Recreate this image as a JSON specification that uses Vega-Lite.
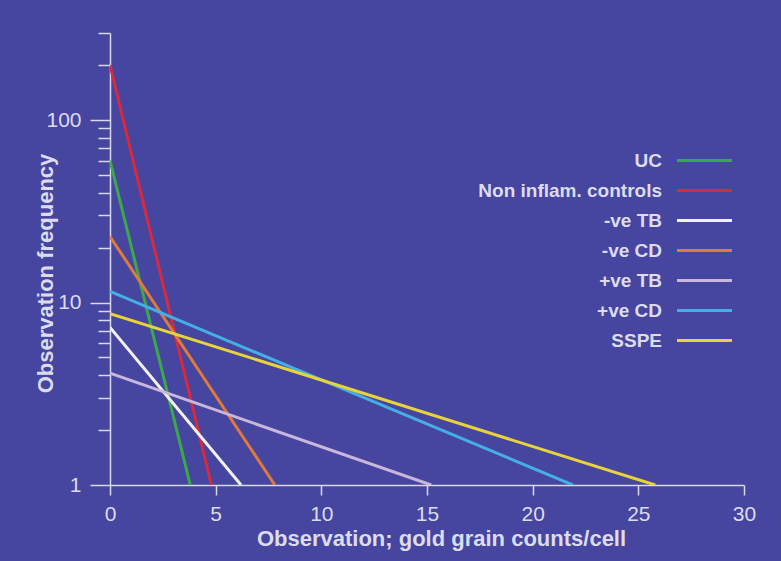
{
  "$schema": "https://vega.github.io/schema/vega-lite/v6.json",
  "autosize": "none",
  "width": 634,
  "height": 452,
  "padding": {"left": 110, "top": 33, "right": 37, "bottom": 76},
  "background": "#46459f",
  "config": {
    "view": {"stroke": null},
    "font": "Liberation Sans"
  },
  "data": {
    "values": [
      {"series": "UC", "x": 0, "y": 60},
      {"series": "UC", "x": 3.8, "y": 1},
      {"series": "Non inflam. controls", "x": 0, "y": 200},
      {"series": "Non inflam. controls", "x": 4.8, "y": 1},
      {"series": "-ve TB", "x": 0, "y": 7.3},
      {"series": "-ve TB", "x": 6.2, "y": 1},
      {"series": "-ve CD", "x": 0, "y": 23},
      {"series": "-ve CD", "x": 7.8, "y": 1},
      {"series": "+ve TB", "x": 0, "y": 4.1},
      {"series": "+ve TB", "x": 15.2, "y": 1},
      {"series": "+ve CD", "x": 0, "y": 11.5},
      {"series": "+ve CD", "x": 21.9, "y": 1},
      {"series": "SSPE", "x": 0, "y": 8.7},
      {"series": "SSPE", "x": 25.8, "y": 1}
    ]
  },
  "mark": {"type": "line", "strokeWidth": 3, "clip": true},
  "encoding": {
    "x": {
      "field": "x",
      "type": "quantitative",
      "scale": {"domain": [0, 30], "nice": false, "zero": false},
      "axis": {
        "title": "Observation; gold grain counts/cell",
        "values": [0, 5, 10, 15, 20, 25, 30],
        "grid": false,
        "domainColor": "#d8d8ee",
        "domainWidth": 1.5,
        "tickColor": "#d8d8ee",
        "tickWidth": 1.5,
        "tickSize": 10,
        "labelColor": "#dcdcf0",
        "labelFontSize": 21,
        "labelPadding": 8,
        "labelFlush": false,
        "titleColor": "#dcdcf0",
        "titleFontSize": 22,
        "titleFontWeight": "bold",
        "titlePadding": 4,
        "titleX": 331
      }
    },
    "y": {
      "field": "y",
      "type": "quantitative",
      "scale": {"type": "log", "domain": [1, 300], "nice": false},
      "axis": {
        "title": "Observation frequency",
        "values": [1, 2, 3, 4, 5, 6, 7, 8, 9, 10, 20, 30, 40, 50, 60, 70, 80, 90, 100, 200, 300],
        "labelExpr": "indexof([1, 10, 100], datum.value) >= 0 ? format(datum.value, 'd') : ''",
        "grid": false,
        "domainColor": "#d8d8ee",
        "domainWidth": 1.5,
        "tickColor": "#d8d8ee",
        "tickWidth": 1.5,
        "tickSize": {"condition": {"test": "indexof([1, 10, 100], datum.value) >= 0", "value": 20}, "value": 12},
        "labelColor": "#dcdcf0",
        "labelFontSize": 21,
        "labelPadding": 9,
        "labelFlush": false,
        "labelOverlap": false,
        "titleColor": "#dcdcf0",
        "titleFontSize": 22,
        "titleFontWeight": "bold",
        "titleX": -65,
        "titleY": 240,
        "titleBaseline": "middle"
      }
    },
    "color": {
      "field": "series",
      "type": "nominal",
      "scale": {
        "domain": ["UC", "Non inflam. controls", "-ve TB", "-ve CD", "+ve TB", "+ve CD", "SSPE"],
        "range": ["#3ca84a", "#d62a3e", "#f2f2f2", "#e07a3a", "#c8b6dc", "#45aee2", "#e8d43a"]
      },
      "legend": {
        "title": null,
        "orient": "none",
        "legendX": 585,
        "legendY": 118,
        "symbolType": "M-5,0H5",
        "symbolSize": 121,
        "symbolStrokeWidth": 3,
        "labelAlign": "right",
        "labelOffset": -52,
        "labelColor": "#dcdcf0",
        "labelFontSize": 19,
        "labelFontWeight": "bold",
        "labelLimit": 400,
        "rowPadding": 10
      }
    }
  }
}
